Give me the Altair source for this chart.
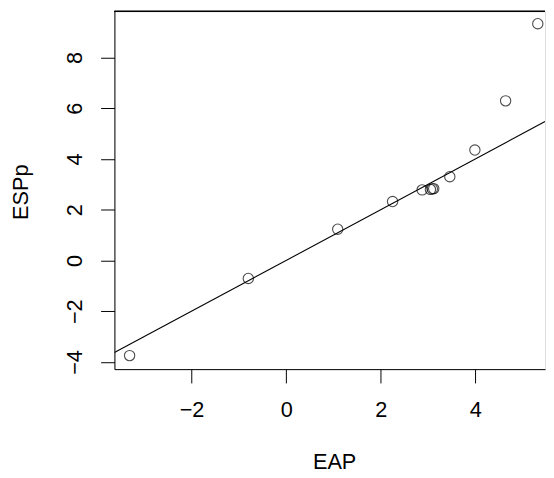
import altair as alt
import pandas as pd

# Data (EAP vs ESPp)
eap = [-3.31, -0.80, 1.09, 2.25, 2.875, 3.05, 3.09, 3.12, 3.46, 3.99, 4.64, 5.32]
espp = [-3.75, -0.71, 1.23, 2.32, 2.78, 2.80, 2.82, 2.83, 3.30, 4.35, 6.29, 9.33]

x_ticks = [-2, 0, 2, 4]
y_ticks = [-4, -2, 0, 2, 4, 6, 8]

x_domain = [-3.631, 5.473]
y_domain = [-4.283, 9.813]

pts = pd.DataFrame({"EAP": eap, "ESPp": espp})
# identity reference line y = x across the plotting domain
ref = pd.DataFrame({"EAP": x_domain, "ESPp": x_domain})

FONT = "Liberation Sans"
FS = 22

xscale = alt.Scale(domain=x_domain, nice=False, zero=False)
yscale = alt.Scale(domain=y_domain, nice=False, zero=False)

xaxis = alt.Axis(
    values=x_ticks, grid=False, tickSize=14, tickColor="black", tickWidth=1,
    domainColor="black", domainWidth=1,
    labelFont=FONT, labelFontSize=FS, labelColor="black",
    labelBaseline="alphabetic", labelPadding=33.8, labelFlush=False,
    title="EAP", titleFont=FONT, titleFontSize=FS, titleFontWeight="normal",
    titleColor="black", titleBaseline="alphabetic", titleAlign="center",
    titleX=223, titleY=101,
)
yaxis = alt.Axis(
    values=y_ticks, grid=False, tickSize=14, tickColor="black", tickWidth=1,
    domainColor="black", domainWidth=1,
    labelFont=FONT, labelFontSize=FS, labelColor="black",
    labelAngle=-90, labelAlign="center", labelBaseline="alphabetic",
    labelPadding=19, labelFlush=False,
    title="ESPp", titleFont=FONT, titleFontSize=FS, titleFontWeight="normal",
    titleColor="black", titleBaseline="alphabetic", titleAlign="center",
    titleAngle=270, titleX=-88.5, titleY=183,
)

points = alt.Chart(pts).mark_point(
    shape="circle", filled=False, color="black", size=110, strokeWidth=1.1, clip=True
).encode(
    x=alt.X("EAP:Q", scale=xscale, axis=xaxis),
    y=alt.Y("ESPp:Q", scale=yscale, axis=yaxis),
)

line = alt.Chart(ref).mark_line(color="black", strokeWidth=1.1, clip=True).encode(
    x=alt.X("EAP:Q", scale=xscale),
    y=alt.Y("ESPp:Q", scale=yscale),
)

top_border = alt.Chart(pts).mark_rule(color="black", strokeWidth=1).encode(
    x=alt.value(0), x2=alt.value(437), y=alt.value(0)
)

chart = alt.layer(line, points, top_border).properties(
    width=437, height=363,
    autosize=alt.AutoSizeParams(type="none"),
    padding={"left": 108, "top": 0, "right": 1, "bottom": 107},
).configure_view(stroke=None).configure(background="white")

chart.save("out.html", embed_options={"renderer": "svg", "actions": False})
